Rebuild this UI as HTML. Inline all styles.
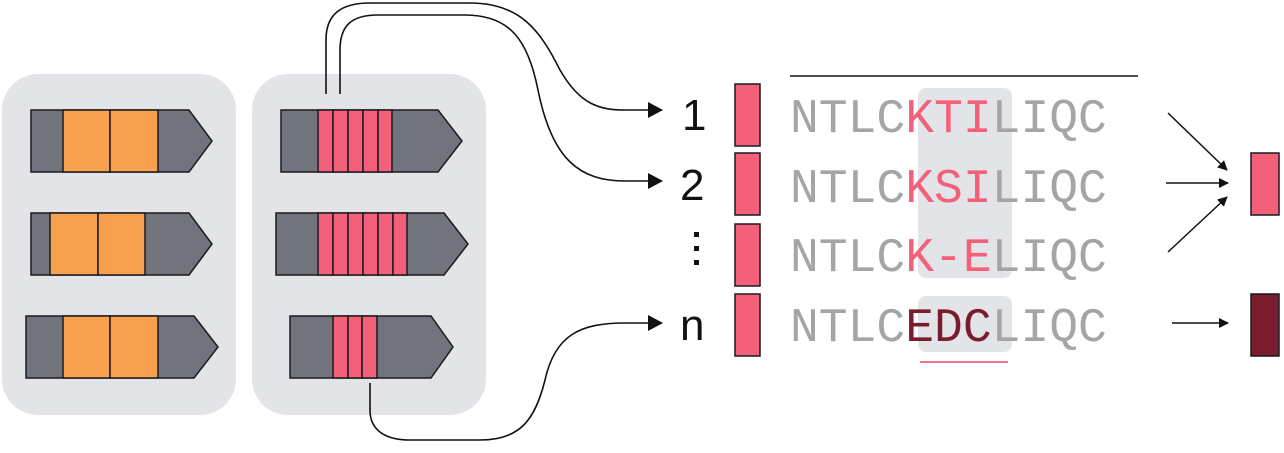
<!DOCTYPE html>
<html><head><meta charset="utf-8"><style>
html,body{margin:0;padding:0;background:#fff;width:1284px;height:453px;overflow:hidden}
</style></head><body>
<svg width="1284" height="453" viewBox="0 0 1284 453" xmlns="http://www.w3.org/2000/svg">
<defs><marker id="ah" markerWidth="10" markerHeight="10" refX="9" refY="5" orient="auto" markerUnits="userSpaceOnUse"><path d="M0,0 L10,5 L0,10 z" fill="#111"/></marker>
<marker id="ab" markerWidth="16" markerHeight="16" refX="14" refY="8" orient="auto" markerUnits="userSpaceOnUse"><path d="M0,0 L15,8 L0,16 z" fill="#111"/></marker></defs>
<rect x="2" y="74" width="234" height="341" rx="36" fill="#e3e4e8"/>
<rect x="252" y="74" width="234" height="341" rx="36" fill="#e3e4e8"/>
<g stroke="#1a1a1f" stroke-width="1.5">
<polygon points="31,110 189,110 212,141 189,172 31,172" fill="#71747c"/>
<rect x="63" y="110" width="47" height="62" fill="#f7a04d"/><rect x="110" y="110" width="48" height="62" fill="#f7a04d"/>
<polygon points="31,213 189,213 212,244 189,275 31,275" fill="#71747c"/>
<rect x="50" y="213" width="48" height="62" fill="#f7a04d"/><rect x="98" y="213" width="47" height="62" fill="#f7a04d"/>
<polygon points="26,316 194,316 218,347 194,378 26,378" fill="#71747c"/>
<rect x="63" y="316" width="47" height="62" fill="#f7a04d"/><rect x="110" y="316" width="48" height="62" fill="#f7a04d"/>
<polygon points="281,110 438,110 462,141 438,172 281,172" fill="#71747c"/>
<g fill="#f2607a"><rect x="318" y="110" width="15" height="62"/><rect x="333" y="110" width="15" height="62"/><rect x="348" y="110" width="15" height="62"/><rect x="363" y="110" width="15" height="62"/><rect x="378" y="110" width="14" height="62"/></g>
<polygon points="276,213 444,213 468,244 444,275 276,275" fill="#71747c"/>
<g fill="#f2607a"><rect x="318" y="213" width="15" height="62"/><rect x="333" y="213" width="15" height="62"/><rect x="348" y="213" width="15" height="62"/><rect x="363" y="213" width="15" height="62"/><rect x="378" y="213" width="15" height="62"/><rect x="393" y="213" width="14" height="62"/></g>
<polygon points="290,316 431,316 453,347 431,378 290,378" fill="#71747c"/>
<g fill="#f2607a"><rect x="333" y="316" width="15" height="62"/><rect x="348" y="316" width="14" height="62"/><rect x="362" y="316" width="15" height="62"/></g>
</g>
<g fill="none" stroke="#111" stroke-width="1.6">
<path d="M326,94 V40 C326,15 340,3 370,3 H470 C520,3 540,30 560,70 C580,105 600,110 625,110 H662" marker-end="url(#ab)"/>
<path d="M340,94 V50 C340,25 352,15 378,15 H465 C510,15 528,40 538,90 C552,160 580,181 625,181 H662" marker-end="url(#ab)"/>
<path d="M370,383 V410 C370,430 385,440 410,440 H480 C520,440 535,420 545,380 C555,335 580,323 625,323 H662" marker-end="url(#ab)"/>
</g>
<g font-family="Liberation Sans, sans-serif" font-size="44" fill="#111">
<text x="682" y="130">1</text><text x="680" y="200">2</text><text x="680" y="340">n</text>
</g>
<rect x="694" y="232" width="5" height="5" fill="#111"/><rect x="694" y="246" width="5" height="5" fill="#111"/><rect x="694" y="260" width="5" height="5" fill="#111"/>
<g fill="#f2607a" stroke="#1a1a1f" stroke-width="1.5">
<rect x="735" y="84" width="25" height="62"/><rect x="735" y="153" width="25" height="62"/><rect x="735" y="224" width="25" height="62"/><rect x="735" y="294" width="25" height="62"/>
<rect x="1251" y="153" width="28" height="62"/>
<rect x="1251" y="294" width="28" height="62" fill="#7a1c2e"/>
</g>
<line x1="790" y1="76" x2="1138" y2="76" stroke="#111" stroke-width="1.6"/>
<rect x="918" y="88" width="94" height="190" rx="8" fill="#e3e4e8"/>
<rect x="918" y="296" width="94" height="56" rx="8" fill="#e3e4e8"/>
<line x1="920" y1="362" x2="1008" y2="362" stroke="#f2607a" stroke-width="1.8"/>
<g font-family="Liberation Mono, monospace" font-size="48" fill="#a5a5a8">
<text x="790" y="132">NTLC<tspan fill="#f2607a">KTI</tspan>LIQC</text>
<text x="790" y="202">NTLC<tspan fill="#f2607a">KSI</tspan>LIQC</text>
<text x="790" y="271">NTLC<tspan fill="#f2607a">K-E</tspan>LIQC</text>
<text x="790" y="341">NTLC<tspan fill="#7a1c2e">EDC</tspan>LIQC</text>
</g>
<g stroke="#111" stroke-width="1.5">
<line x1="1168" y1="113" x2="1227" y2="170" marker-end="url(#ah)"/>
<line x1="1166" y1="183" x2="1228" y2="183" marker-end="url(#ah)"/>
<line x1="1168" y1="252" x2="1227" y2="197" marker-end="url(#ah)"/>
<line x1="1172" y1="323" x2="1228" y2="323" marker-end="url(#ah)"/>
</g>
</svg>
</body></html>
